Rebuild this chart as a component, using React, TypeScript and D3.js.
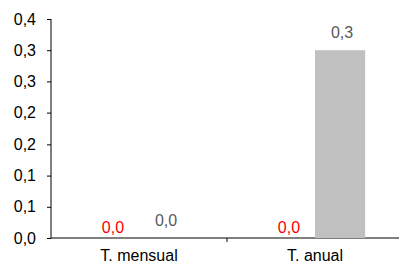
import React, { useEffect, useRef } from "react";
import * as d3 from "d3";

const categories = ["T. mensual", "T. anual"];
const seriesNames = ["Serie A", "Serie B"];
const redValues = [0, 0];
const grayValues = [0, 0.343];
const tickValues = [0, 0.057, 0.114, 0.171, 0.229, 0.286, 0.343, 0.4];
const tickLabels = ["0,0", "0,1", "0,1", "0,2", "0,2", "0,3", "0,3", "0,4"];

const W = 399;
const H = 264;
const FONT = "'Liberation Sans', Arial, sans-serif";

const App = () => {
  const ref = useRef<SVGSVGElement | null>(null);

  useEffect(() => {
    const svg = d3.select(ref.current);
    svg.selectAll("*").remove();

    const margin = { top: 19, right: -4, bottom: 26, left: 51 };
    const innerH = H - margin.top - margin.bottom;
    const innerW = W - margin.left - margin.right;

    const g = svg
      .append("g")
      .attr("transform", `translate(${margin.left},${margin.top})`);

    const y = d3.scaleLinear().domain([0, 0.4]).range([innerH, 0]);
    const x = d3.scaleBand().domain(categories).range([0, innerW]).padding(0);
    const xs = d3
      .scaleBand()
      .domain(seriesNames)
      .range([x.bandwidth() * 0.215, x.bandwidth() * 0.785])
      .padding(0);

    // y axis
    const ya = g
      .append("g")
      .call(
        d3
          .axisLeft(y)
          .tickValues(tickValues)
          .tickSize(4)
          .tickPadding(11)
          .tickFormat((_, i) => tickLabels[i])
      );
    ya.select(".domain").attr("d", `M0,0V${innerH}`).attr("stroke", "#000");
    ya.selectAll(".tick line").attr("stroke", "#000");
    ya.selectAll("text")
      .attr("fill", "#000")
      .style("font-family", FONT)
      .style("font-size", "16px");

    // x axis
    const xa = g
      .append("g")
      .attr("transform", `translate(0,${innerH})`)
      .call(d3.axisBottom(x).tickSize(0).tickPadding(12));
    xa.select(".domain").attr("d", `M0,0H${innerW}`).attr("stroke", "#000");
    xa.selectAll("text")
      .attr("fill", "#000")
      .style("font-family", FONT)
      .style("font-size", "16px");
    xa.selectAll(".sep")
      .data(categories.slice(1))
      .enter()
      .append("line")
      .attr("class", "sep")
      .attr("x1", (d) => x(d) ?? 0)
      .attr("x2", (d) => x(d) ?? 0)
      .attr("y1", 0)
      .attr("y2", 4)
      .attr("stroke", "#000");

    const rows = categories.map((c, i) => ({
      c,
      red: redValues[i],
      gray: grayValues[i],
    }));

    // bars
    g.selectAll(".bar-gray")
      .data(rows)
      .enter()
      .append("rect")
      .attr("class", "bar-gray")
      .attr("x", (d) => (x(d.c) ?? 0) + (xs(seriesNames[1]) ?? 0))
      .attr("width", xs.bandwidth())
      .attr("y", (d) => y(d.gray))
      .attr("height", (d) => innerH - y(d.gray))
      .attr("fill", "#c0c0c0");

    g.selectAll(".bar-red")
      .data(rows)
      .enter()
      .append("rect")
      .attr("class", "bar-red")
      .attr("x", (d) => (x(d.c) ?? 0) + (xs(seriesNames[0]) ?? 0))
      .attr("width", xs.bandwidth())
      .attr("y", (d) => y(d.red))
      .attr("height", (d) => innerH - y(d.red))
      .attr("fill", "#ff0000");

    const fmt = (v: number) => d3.format(".1f")(v).replace(".", ",");

    // value labels
    g.selectAll(".lbl-red")
      .data(rows)
      .enter()
      .append("text")
      .attr("class", "lbl-red")
      .attr("x", (d) => (x(d.c) ?? 0) + (xs(seriesNames[0]) ?? 0) + xs.bandwidth() / 2 - 1)
      .attr("y", (d) => y(d.red) - 5)
      .attr("text-anchor", "middle")
      .attr("fill", "#ff0000")
      .style("font-family", FONT)
      .style("font-size", "16px")
      .text((d) => fmt(d.red));

    g.selectAll(".lbl-gray")
      .data(rows)
      .enter()
      .append("text")
      .attr("class", "lbl-gray")
      .attr("x", (d) => (x(d.c) ?? 0) + (xs(seriesNames[1]) ?? 0) + xs.bandwidth() / 2 + 2)
      .attr("y", (d) => y(d.gray) - 12)
      .attr("text-anchor", "middle")
      .attr("fill", "#595959")
      .style("font-family", FONT)
      .style("font-size", "16px")
      .text((d) => fmt(d.gray));
  }, []);

  return (
    <svg
      ref={ref}
      width={W}
      height={H}
      style={{ position: "absolute", left: 0, top: 0, background: "#fff" }}
    />
  );
};

export default App;
